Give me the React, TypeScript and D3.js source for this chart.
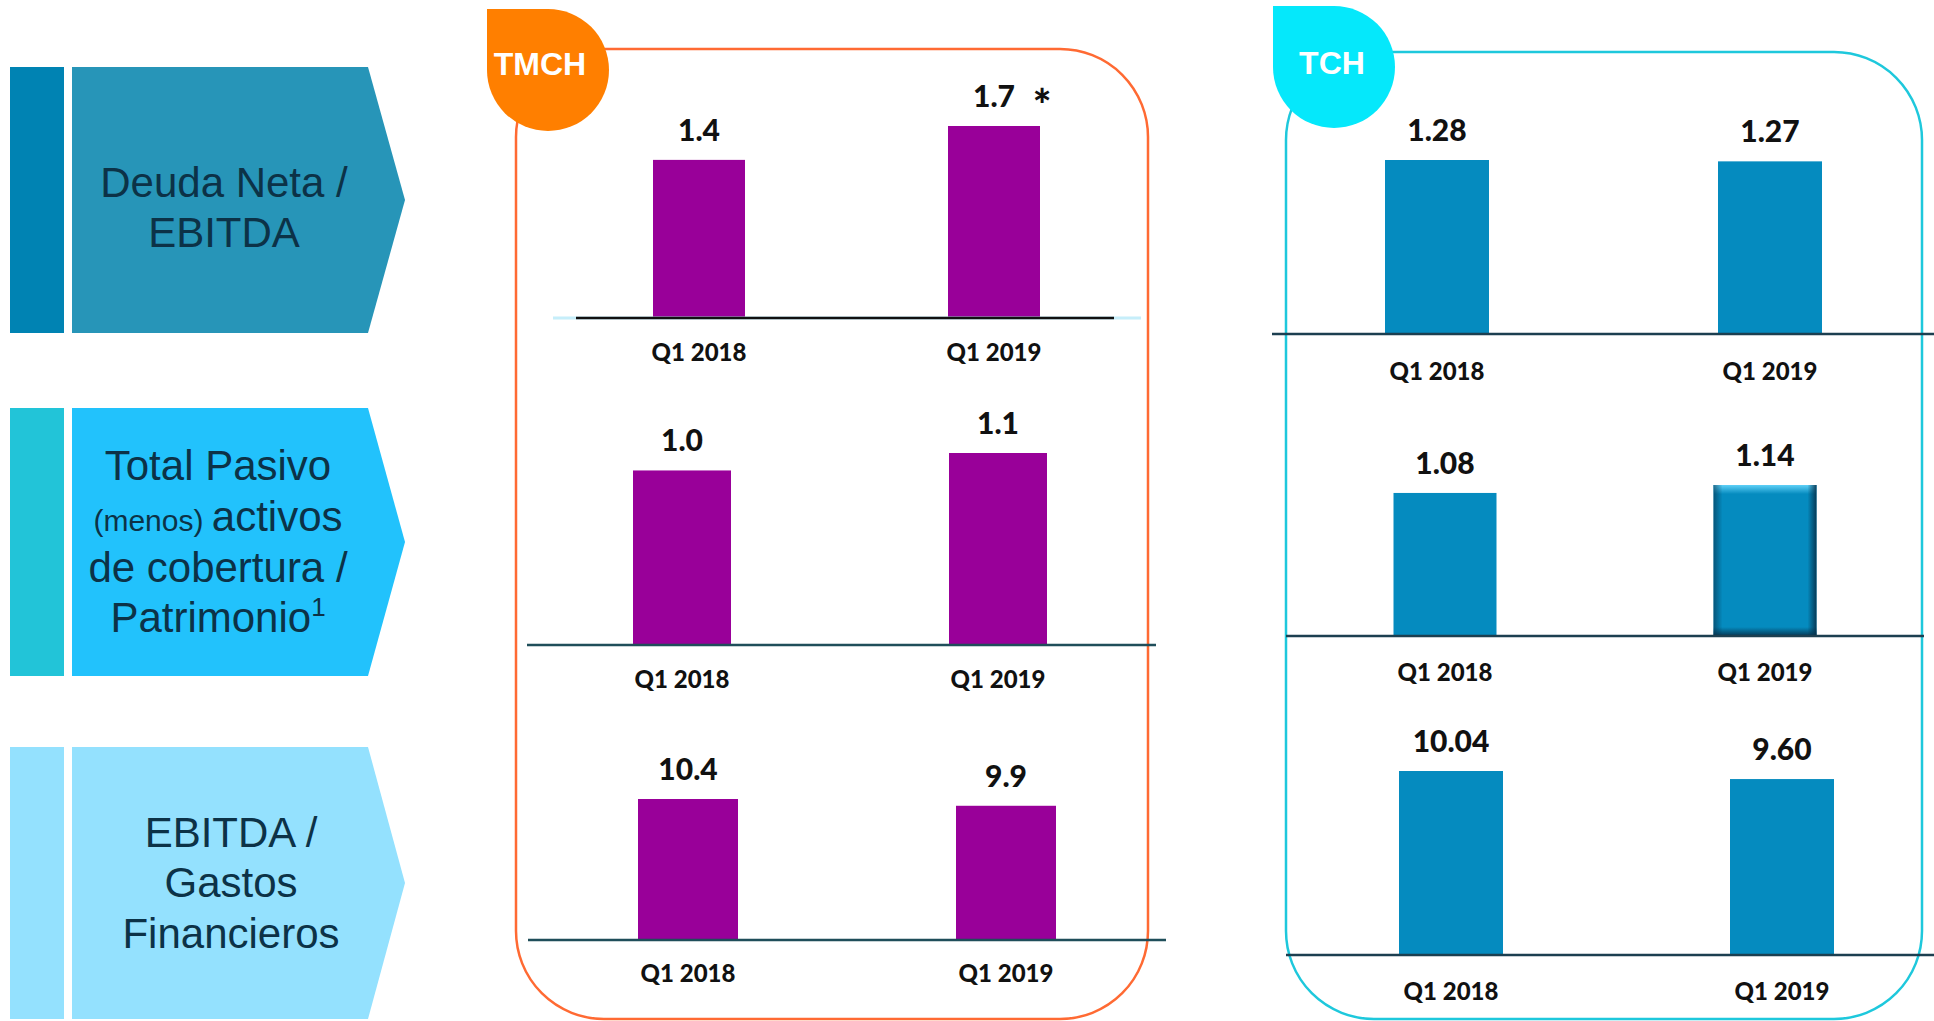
import React, { useRef, useEffect } from 'react';
import * as d3 from 'd3';

// categories and values
const categories = ['Q1 2018', 'Q1 2019'];

const tmchDeudaEbitda = [1.4, 1.7];
const tmchPasivoPatrimonio = [1.0, 1.1];
const tmchEbitdaGastos = [10.4, 9.9];

const tchDeudaEbitda = [1.28, 1.27];
const tchPasivoPatrimonio = [1.08, 1.14];
const tchEbitdaGastos = [10.04, 9.6];

const companies = ['TMCH', 'TCH'];

// metric titles, one entry per line, split into runs
const titleDeuda = [[{ t: 'Deuda Neta /' }], [{ t: 'EBITDA' }]];
const titlePasivo = [
  [{ t: 'Total Pasivo' }],
  [{ t: '(menos) ', small: true }, { t: 'activos' }],
  [{ t: 'de cobertura /' }],
  [{ t: 'Patrimonio' }, { t: '1', sup: true }]
];
const titleEbitda = [[{ t: 'EBITDA /' }], [{ t: 'Gastos' }], [{ t: 'Financieros' }]];

const W = 1934;
const H = 1021;
const LABEL_FONT = "Lato, 'Open Sans', sans-serif";
const TITLE_FONT = "'Liberation Sans', Arial, sans-serif";

const App = () => {
  const svgRef = useRef(null);

  useEffect(() => {
    if (!svgRef.current) return;
    const svg = d3.select(svgRef.current);
    svg.selectAll('*').remove();

    const defs = svg.append('defs');
    const grad = (id, x2, y2, stops) => {
      const g = defs.append('linearGradient').attr('id', id)
        .attr('x1', 0).attr('y1', 0).attr('x2', x2).attr('y2', y2);
      stops.forEach(s => g.append('stop').attr('offset', s[0]).attr('stop-color', s[1]).attr('stop-opacity', s[2]));
    };
    grad('bevTop', 0, 1, [[0, '#5fd0f7', 1], [1, '#5fd0f7', 0]]);
    grad('bevBottom', 0, 1, [[0, '#06304a', 0], [1, '#06304a', 0.9]]);
    grad('bevLeft', 1, 0, [[0, '#06304a', 0.6], [1, '#06304a', 0]]);
    grad('bevRight', 1, 0, [[0, '#06304a', 0], [1, '#06304a', 0.9]]);

    // ---- left metric panels ----
    const leftPanels = [
      { y0: 67, y1: 333, bar: '#0083b3', arrow: '#2795b8', cx: 224, lines: titleDeuda, baselines: [197, 247] },
      { y0: 408, y1: 676, bar: '#22c4d8', arrow: '#22c2fc', cx: 218, lines: titlePasivo, baselines: [480, 531, 582, 632] },
      { y0: 747, y1: 1019, bar: '#94e1fe', arrow: '#94e1fe', cx: 231, lines: titleEbitda, baselines: [847, 897, 948] }
    ];

    leftPanels.forEach(p => {
      svg.append('rect')
        .attr('x', 10).attr('y', p.y0)
        .attr('width', 54).attr('height', p.y1 - p.y0)
        .attr('fill', p.bar);

      const ym = (p.y0 + p.y1) / 2;
      svg.append('path')
        .attr('d', `M72,${p.y0} H368 L405,${ym} L368,${p.y1} H72 Z`)
        .attr('fill', p.arrow);

      p.lines.forEach((runs, i) => {
        const txt = svg.append('text')
          .attr('x', p.cx)
          .attr('y', p.baselines[i])
          .attr('text-anchor', 'middle')
          .attr('font-family', TITLE_FONT)
          .attr('font-size', 42)
          .attr('fill', '#0c3247');
        runs.forEach(r => {
          const ts = txt.append('tspan').text(r.t);
          if (r.small) ts.attr('font-size', 30);
          if (r.sup) ts.attr('font-size', 26).attr('dy', -16);
        });
      });
    });

    // ---- company boxes ----
    const boxes = [
      { x: 516, y: 49, w: 632, h: 970, stroke: '#ff6a33', badge: '#ff7f00', bx: 548, by: 70, tx: 540, ty: 75 },
      { x: 1286, y: 52, w: 636, h: 967, stroke: '#1ec8dc', badge: '#05e8fb', bx: 1334, by: 67, tx: 1332, ty: 74 }
    ];

    boxes.forEach((b, i) => {
      svg.append('rect')
        .attr('x', b.x).attr('y', b.y)
        .attr('width', b.w).attr('height', b.h)
        .attr('rx', 88).attr('ry', 88)
        .attr('fill', 'none')
        .attr('stroke', b.stroke)
        .attr('stroke-width', 2.5);

      // leaf shaped badge: circle with a square top-left corner
      const r = 61;
      svg.append('path')
        .attr('d', `M${b.bx - r},${b.by - r} H${b.bx} A${r},${r} 0 0 1 ${b.bx + r},${b.by} A${r},${r} 0 0 1 ${b.bx},${b.by + r} A${r},${r} 0 0 1 ${b.bx - r},${b.by} Z`)
        .attr('fill', b.badge);

      svg.append('text')
        .attr('x', b.tx).attr('y', b.ty)
        .attr('text-anchor', 'middle')
        .attr('font-family', TITLE_FONT)
        .attr('font-weight', 'bold')
        .attr('font-size', 32)
        .attr('fill', '#fff')
        .text(companies[i]);
    });

    // ---- mini bar charts ----
    const charts = [
      { values: tmchDeudaEbitda, fmt: '.1f', color: '#990099', baseline: 318, top: 126, centers: [699, 994], barW: 92, line: [576, 1114], lineColor: '#111111', glow: [553, 1141], star: true, catDy: 43 },
      { values: tmchPasivoPatrimonio, fmt: '.1f', color: '#990099', baseline: 645, top: 453, centers: [682, 998], barW: 98, line: [527, 1156], lineColor: '#1f4e5a', catDy: 43 },
      { values: tmchEbitdaGastos, fmt: '.1f', color: '#990099', baseline: 940, top: 799, centers: [688, 1006], barW: 100, line: [528, 1166], lineColor: '#1f4e5a', catDy: 42 },
      { values: tchDeudaEbitda, fmt: '.2f', color: '#058bbf', baseline: 334, top: 160, centers: [1437, 1770], barW: 104, line: [1272, 1934], lineColor: '#1c3f50', catDy: 46 },
      { values: tchPasivoPatrimonio, fmt: '.2f', color: '#058bbf', baseline: 636, top: 485, centers: [1445, 1765], barW: 103, line: [1286, 1924], lineColor: '#1c3f50', bevel: 1, catDy: 45 },
      { values: tchEbitdaGastos, fmt: '.2f', color: '#058bbf', baseline: 955, top: 771, centers: [1451, 1782], barW: 104, line: [1286, 1934], lineColor: '#1c3f50', catDy: 45 }
    ];

    charts.forEach(c => {
      const x = d3.scalePoint().domain(categories).range(c.centers);
      const y = d3.scaleLinear().domain([0, d3.max(c.values)]).range([c.baseline, c.top]);
      const g = svg.append('g');

      g.selectAll('rect.bar')
        .data(c.values)
        .join('rect')
        .attr('class', 'bar')
        .attr('x', (d, i) => x(categories[i]) - c.barW / 2)
        .attr('y', d => y(d))
        .attr('width', c.barW)
        .attr('height', d => c.baseline - y(d))
        .attr('fill', c.color);

      if (c.bevel !== undefined) {
        const v = c.values[c.bevel];
        const bx = x(categories[c.bevel]) - c.barW / 2;
        const by = y(v);
        const bh = c.baseline - by;
        const e = 9;
        g.append('rect').attr('x', bx).attr('y', by).attr('width', c.barW).attr('height', e).attr('fill', 'url(#bevTop)');
        g.append('rect').attr('x', bx).attr('y', c.baseline - e).attr('width', c.barW).attr('height', e).attr('fill', 'url(#bevBottom)');
        g.append('rect').attr('x', bx).attr('y', by).attr('width', e).attr('height', bh).attr('fill', 'url(#bevLeft)');
        g.append('rect').attr('x', bx + c.barW - e).attr('y', by).attr('width', e).attr('height', bh).attr('fill', 'url(#bevRight)');
      }

      if (c.glow) {
        g.append('line')
          .attr('x1', c.glow[0]).attr('x2', c.glow[1])
          .attr('y1', c.baseline).attr('y2', c.baseline)
          .attr('stroke', '#c6eefa').attr('stroke-width', 3);
      }
      g.append('line')
        .attr('x1', c.line[0]).attr('x2', c.line[1])
        .attr('y1', c.baseline).attr('y2', c.baseline)
        .attr('stroke', c.lineColor).attr('stroke-width', 2.5);

      g.selectAll('text.val')
        .data(c.values)
        .join('text')
        .attr('class', 'val')
        .attr('x', (d, i) => x(categories[i]))
        .attr('y', d => y(d) - 19)
        .attr('text-anchor', 'middle')
        .attr('font-family', LABEL_FONT)
        .attr('font-weight', 900)
        .attr('font-size', 30)
        .attr('fill', '#111')
        .text(d => d3.format(c.fmt)(d));

      if (c.star) {
        const last = c.values.length - 1;
        g.append('text')
          .attr('x', x(categories[last]) + 48)
          .attr('y', y(c.values[last]) - 5)
          .attr('text-anchor', 'middle')
          .attr('font-family', LABEL_FONT)
          .attr('font-weight', 900)
          .attr('font-size', 44)
          .attr('fill', '#111')
          .text('*');
      }

      g.selectAll('text.cat')
        .data(categories)
        .join('text')
        .attr('class', 'cat')
        .attr('x', d => x(d))
        .attr('y', c.baseline + c.catDy)
        .attr('text-anchor', 'middle')
        .attr('font-family', LABEL_FONT)
        .attr('font-weight', 900)
        .attr('font-size', 24)
        .attr('fill', '#111')
        .text(d => d);
    });
  }, []);

  return (
    <div style={{ position: 'absolute', left: 0, top: 0, width: W, height: H, background: '#fff' }}>
      <svg ref={svgRef} width={W} height={H} style={{ display: 'block' }} />
    </div>
  );
};

export default App;
